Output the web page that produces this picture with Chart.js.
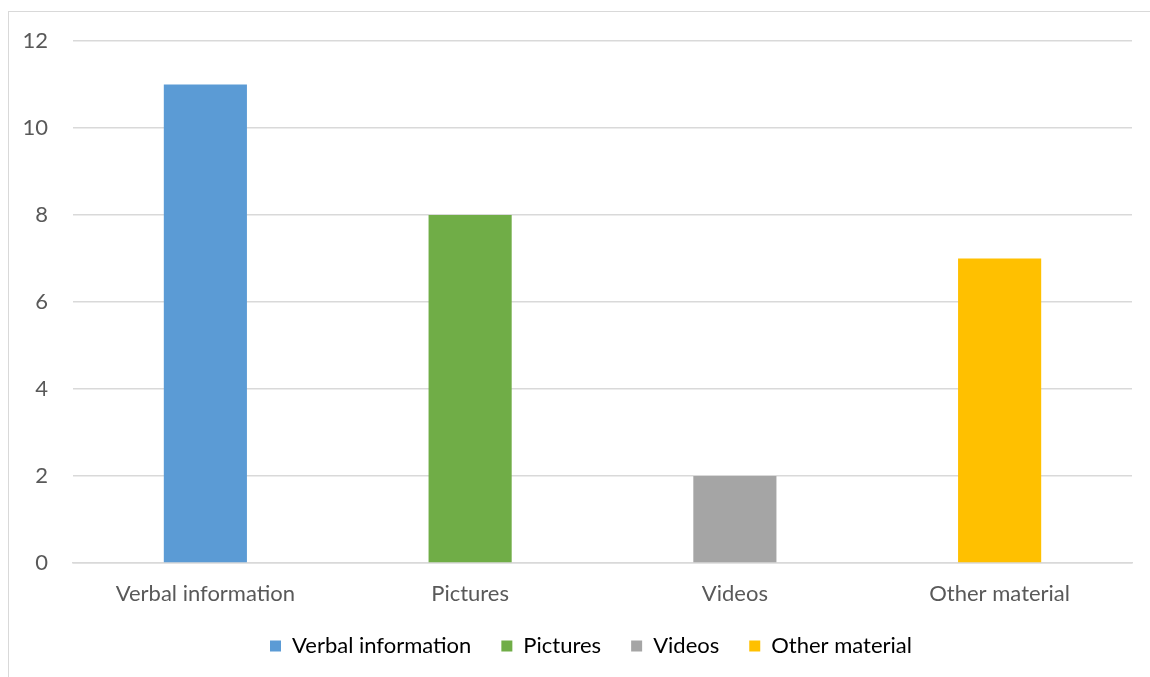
<!DOCTYPE html>
<html>
<head>
<meta charset="utf-8">
<script src="https://cdn.jsdelivr.net/npm/chart.js@4.4.1/dist/chart.umd.min.js"></script>
<style>
  html, body { margin: 0; padding: 0; background: #fff; }
  #wrap { position: relative; width: 1150px; height: 677px; overflow: hidden; }
  #frame {
    position: absolute; left: 8px; top: 11px;
    width: 1200px; height: 700px;
    border: 1.5px solid #d9d9d9; box-sizing: border-box;
  }
  canvas { position: absolute; left: 0; top: 0; }
</style>
</head>
<body>
<div id="wrap">
  <div id="frame"></div>
  <canvas id="materialChart" width="1150" height="677"></canvas>
</div>
<script>
const categories = ['Verbal information', 'Pictures', 'Videos', 'Other material'];
const counts = [11, 8, 2, 7];
const barColors = ['#5b9bd5', '#70ad47', '#a5a5a5', '#ffc000'];
const yTicks = [0, 2, 4, 6, 8, 10, 12];

const textColor = '#595959';
const gridColor = '#d9d9d9';

Chart.defaults.font.family = 'Lato, "Open Sans", sans-serif';
Chart.defaults.font.size = 22;
Chart.defaults.color = textColor;

// the legend sits centred on the whole frame, a bit right of the canvas centre
const legendNudge = {
  id: 'legendNudge',
  afterLayout(chart){
    const lg = chart.legend;
    if(!lg) return;
    lg.left += 25;
    lg.right += 25;
  }
};

const ctx = document.getElementById('materialChart');

new Chart(ctx, {
  type: 'bar',
  data: {
    labels: categories,
    datasets: [{
      label: 'Count',
      data: counts,
      backgroundColor: barColors,
      borderWidth: 0,
      barPercentage: 1,
      categoryPercentage: 0.314
    }]
  },
  options: {
    responsive: false,
    animation: false,
    layout: {
      padding: { top: 41, right: 18, bottom: 10, left: 0 }
    },
    plugins: {
      tooltip: { enabled: false },
      legend: {
        position: 'bottom',
        labels: {
          boxWidth: 11,
          boxHeight: 11,
          padding: 30,
          color: textColor,
          // one legend entry per category, coloured like its bar
          generateLabels: function(chart){
            return categories.map((name, i) => ({
              text: name,
              fillStyle: barColors[i],
              strokeStyle: barColors[i],
              lineWidth: 0,
              hidden: false,
              index: i
            }));
          }
        },
        onClick: null
      }
    },
    scales: {
      x: {
        grid: { display: false, drawTicks: false },
        border: { display: true, color: gridColor, width: 1.5 },
        ticks: { padding: 18, color: textColor },
        afterFit: function(scale){ scale.height = 42; }
      },
      y: {
        min: 0,
        max: 12,
        afterBuildTicks: function(scale){
          scale.ticks = yTicks.map(v => ({ value: v }));
        },
        grid: { color: gridColor, lineWidth: 1.5, drawTicks: false },
        border: { display: false },
        ticks: { padding: 25, color: textColor },
        afterFit: function(scale){ scale.width = 73; }
      }
    }
  },
  plugins: [legendNudge]
});
</script>
</body>
</html>
